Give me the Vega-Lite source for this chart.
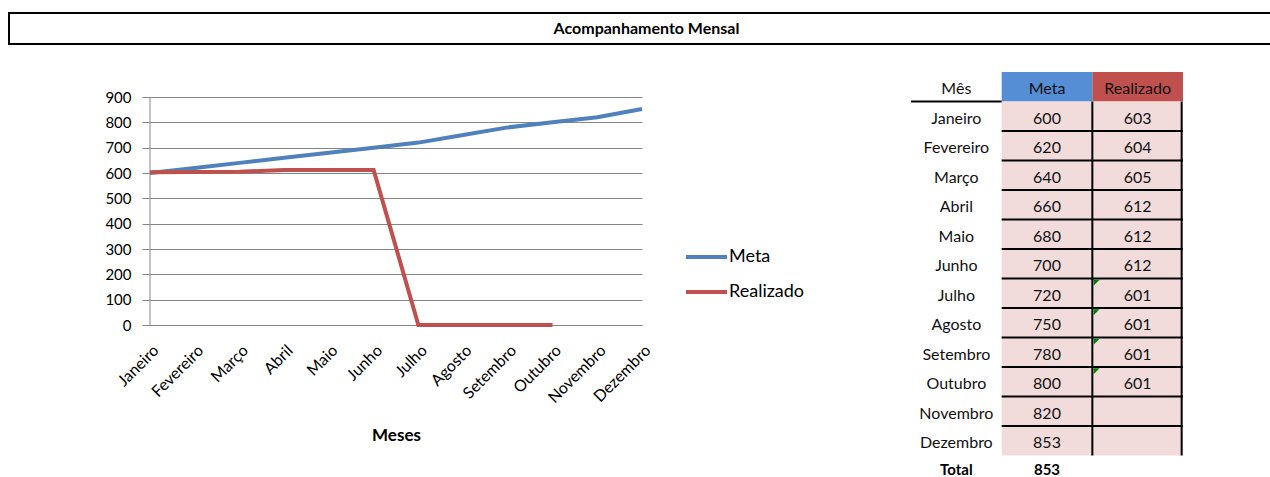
{
  "$schema": "https://vega.github.io/schema/vega-lite/v6.json",
  "padding": {"left": 8, "top": 12, "right": 0, "bottom": 0},
  "background": "white",
  "config": {"font": "Lato", "view": {"stroke": null}},
  "datasets": {
    "serie": [
      {"mes": "Janeiro", "serie": "Meta", "valor": 600},
      {"mes": "Fevereiro", "serie": "Meta", "valor": 620},
      {"mes": "Março", "serie": "Meta", "valor": 640},
      {"mes": "Abril", "serie": "Meta", "valor": 660},
      {"mes": "Maio", "serie": "Meta", "valor": 680},
      {"mes": "Junho", "serie": "Meta", "valor": 700},
      {"mes": "Julho", "serie": "Meta", "valor": 720},
      {"mes": "Agosto", "serie": "Meta", "valor": 750},
      {"mes": "Setembro", "serie": "Meta", "valor": 780},
      {"mes": "Outubro", "serie": "Meta", "valor": 800},
      {"mes": "Novembro", "serie": "Meta", "valor": 820},
      {"mes": "Dezembro", "serie": "Meta", "valor": 853},
      {"mes": "Janeiro", "serie": "Realizado", "valor": 603},
      {"mes": "Fevereiro", "serie": "Realizado", "valor": 604},
      {"mes": "Março", "serie": "Realizado", "valor": 605},
      {"mes": "Abril", "serie": "Realizado", "valor": 612},
      {"mes": "Maio", "serie": "Realizado", "valor": 612},
      {"mes": "Junho", "serie": "Realizado", "valor": 612},
      {"mes": "Julho", "serie": "Realizado", "valor": 0},
      {"mes": "Agosto", "serie": "Realizado", "valor": 0},
      {"mes": "Setembro", "serie": "Realizado", "valor": 0},
      {"mes": "Outubro", "serie": "Realizado", "valor": 0}
    ],
    "tabela": [
      {"linha": "Mês", "coluna": "Mês", "texto": "Mês"},
      {"linha": "Mês", "coluna": "Meta", "texto": "Meta"},
      {"linha": "Mês", "coluna": "Realizado", "texto": "Realizado"},
      {"linha": "Janeiro", "coluna": "Mês", "texto": "Janeiro"},
      {"linha": "Janeiro", "coluna": "Meta", "texto": "600"},
      {"linha": "Janeiro", "coluna": "Realizado", "texto": "603"},
      {"linha": "Fevereiro", "coluna": "Mês", "texto": "Fevereiro"},
      {"linha": "Fevereiro", "coluna": "Meta", "texto": "620"},
      {"linha": "Fevereiro", "coluna": "Realizado", "texto": "604"},
      {"linha": "Março", "coluna": "Mês", "texto": "Março"},
      {"linha": "Março", "coluna": "Meta", "texto": "640"},
      {"linha": "Março", "coluna": "Realizado", "texto": "605"},
      {"linha": "Abril", "coluna": "Mês", "texto": "Abril"},
      {"linha": "Abril", "coluna": "Meta", "texto": "660"},
      {"linha": "Abril", "coluna": "Realizado", "texto": "612"},
      {"linha": "Maio", "coluna": "Mês", "texto": "Maio"},
      {"linha": "Maio", "coluna": "Meta", "texto": "680"},
      {"linha": "Maio", "coluna": "Realizado", "texto": "612"},
      {"linha": "Junho", "coluna": "Mês", "texto": "Junho"},
      {"linha": "Junho", "coluna": "Meta", "texto": "700"},
      {"linha": "Junho", "coluna": "Realizado", "texto": "612"},
      {"linha": "Julho", "coluna": "Mês", "texto": "Julho"},
      {"linha": "Julho", "coluna": "Meta", "texto": "720"},
      {"linha": "Julho", "coluna": "Realizado", "texto": "601", "aviso": true},
      {"linha": "Agosto", "coluna": "Mês", "texto": "Agosto"},
      {"linha": "Agosto", "coluna": "Meta", "texto": "750"},
      {"linha": "Agosto", "coluna": "Realizado", "texto": "601", "aviso": true},
      {"linha": "Setembro", "coluna": "Mês", "texto": "Setembro"},
      {"linha": "Setembro", "coluna": "Meta", "texto": "780"},
      {"linha": "Setembro", "coluna": "Realizado", "texto": "601", "aviso": true},
      {"linha": "Outubro", "coluna": "Mês", "texto": "Outubro"},
      {"linha": "Outubro", "coluna": "Meta", "texto": "800"},
      {"linha": "Outubro", "coluna": "Realizado", "texto": "601", "aviso": true},
      {"linha": "Novembro", "coluna": "Mês", "texto": "Novembro"},
      {"linha": "Novembro", "coluna": "Meta", "texto": "820"},
      {"linha": "Novembro", "coluna": "Realizado", "texto": ""},
      {"linha": "Dezembro", "coluna": "Mês", "texto": "Dezembro"},
      {"linha": "Dezembro", "coluna": "Meta", "texto": "853"},
      {"linha": "Dezembro", "coluna": "Realizado", "texto": ""},
      {"linha": "Total", "coluna": "Mês", "texto": "Total"},
      {"linha": "Total", "coluna": "Meta", "texto": "853"}
    ]
  },
  "spacing": 27,
  "center": true,
  "vconcat": [
    {
      "width": 1315,
      "height": 31,
      "view": {"stroke": "black", "strokeWidth": 2},
      "data": {"values": [{"titulo": "Acompanhamento Mensal"}]},
      "mark": {"type": "text", "fontWeight": "bold", "fontSize": 16, "color": "black", "baseline": "middle", "dx": -20},
      "encoding": {"text": {"field": "titulo", "type": "nominal"}}
    },
    {
      "spacing": 256,
      "hconcat": [
        {
          "width": 492,
          "height": 253,
          "layer": [
            {
              "data": {"values": [{}]},
              "mark": {"type": "rule", "color": "#868686", "strokeWidth": 1},
              "encoding": {
                "x": {
                  "datum": "Janeiro",
                  "type": "nominal",
                  "scale": {"type": "point", "padding": 0, "domain": ["Janeiro", "Fevereiro", "Março", "Abril", "Maio", "Junho", "Julho", "Agosto", "Setembro", "Outubro", "Novembro", "Dezembro"]},
                  "axis": {
                    "title": "Meses",
                    "titleFontSize": 17,
                    "titleFontWeight": "bold",
                    "titleColor": "black",
                    "titlePadding": 22,
                    "labelAngle": -45,
                    "labelFontSize": 16,
                    "labelColor": "black",
                    "labelPadding": 17,
                    "labelOverlap": false,
                    "ticks": false,
                    "domainColor": "#868686",
                    "domainWidth": 1,
                    "grid": false
                  }
                },
                "y": {
                  "datum": 0,
                  "type": "quantitative",
                  "scale": {"domain": [0, 998.7], "nice": false},
                  "axis": {
                    "title": null,
                    "values": [0, 100, 200, 300, 400, 500, 600, 700, 800, 900],
                    "labelOverlap": false,
                    "grid": true,
                    "gridColor": "#868686",
                    "gridOpacity": 1,
                    "domain": false,
                    "tickColor": "#868686",
                    "tickSize": 8,
                    "labelFontSize": 15,
                    "labelColor": "black",
                    "labelPadding": 11
                  }
                },
                "y2": {"datum": 900}
              }
            },
            {
              "data": {"name": "serie"},
              "mark": {"type": "line", "strokeWidth": 4, "strokeCap": "butt", "strokeJoin": "miter"},
              "encoding": {
                "x": {
                  "field": "mes",
                  "type": "nominal",
                  "scale": {"type": "point", "padding": 0, "domain": ["Janeiro", "Fevereiro", "Março", "Abril", "Maio", "Junho", "Julho", "Agosto", "Setembro", "Outubro", "Novembro", "Dezembro"]},
                  "axis": {
                    "title": "Meses",
                    "titleFontSize": 17,
                    "titleFontWeight": "bold",
                    "titleColor": "black",
                    "titlePadding": 22,
                    "labelAngle": -45,
                    "labelFontSize": 16,
                    "labelColor": "black",
                    "labelPadding": 17,
                    "labelOverlap": false,
                    "ticks": false,
                    "domainColor": "#868686",
                    "domainWidth": 1,
                    "grid": false
                  }
                },
                "y": {
                  "field": "valor",
                  "type": "quantitative",
                  "scale": {"domain": [0, 998.7], "nice": false},
                  "axis": {
                    "title": null,
                    "values": [0, 100, 200, 300, 400, 500, 600, 700, 800, 900],
                    "labelOverlap": false,
                    "grid": true,
                    "gridColor": "#868686",
                    "gridOpacity": 1,
                    "domain": false,
                    "tickColor": "#868686",
                    "tickSize": 8,
                    "labelFontSize": 15,
                    "labelColor": "black",
                    "labelPadding": 11
                  }
                },
                "color": {
                  "field": "serie",
                  "type": "nominal",
                  "scale": {"domain": ["Meta", "Realizado"], "range": ["#4F81BD", "#C0504D"]},
                  "legend": {
                    "title": null,
                    "orient": "none",
                    "legendX": 675,
                    "legendY": 234,
                    "symbolType": "stroke",
                    "symbolSize": 1681,
                    "symbolStrokeWidth": 4,
                    "labelFontSize": 18,
                    "labelColor": "black",
                    "labelOffset": 0,
                    "clipHeight": 20,
                    "rowPadding": 15
                  }
                }
              }
            }
          ]
        },
        {
          "width": 272,
          "height": 413,
          "data": {"name": "tabela"},
          "encoding": {
            "x": {"field": "coluna", "type": "nominal", "scale": {"domain": ["Mês", "Meta", "Realizado"], "paddingInner": 0, "paddingOuter": 0}, "axis": null},
            "y": {"field": "linha", "type": "nominal", "scale": {"domain": ["Mês", "Janeiro", "Fevereiro", "Março", "Abril", "Maio", "Junho", "Julho", "Agosto", "Setembro", "Outubro", "Novembro", "Dezembro", "Total"], "paddingInner": 0, "paddingOuter": 0}, "axis": null}
          },
          "layer": [
            {
              "transform": [{"filter": "datum.linha === 'Mês' && datum.coluna !== 'Mês'"}],
              "mark": {"type": "rect"},
              "encoding": {"fill": {"condition": {"test": "datum.coluna === 'Meta'", "value": "#558ED5"}, "value": "#C0504D"}}
            },
            {
              "transform": [{"filter": "datum.linha !== 'Mês' && datum.linha !== 'Total' && datum.coluna !== 'Mês'"}],
              "mark": {"type": "rect", "fill": "#F2DCDB"}
            },
            {
              "transform": [{"filter": "(datum.coluna !== 'Mês' && datum.linha !== 'Mês' && datum.linha !== 'Total' && datum.linha !== 'Janeiro') || (datum.coluna === 'Mês' && datum.linha === 'Janeiro')"}],
              "mark": {"type": "rule", "color": "black", "strokeWidth": 2},
              "encoding": {
                "x": {"field": "coluna", "type": "nominal", "bandPosition": 0, "scale": {"domain": ["Mês", "Meta", "Realizado"], "paddingInner": 0, "paddingOuter": 0}, "axis": null},
                "x2": {"field": "coluna", "bandPosition": 1},
                "y": {"field": "linha", "type": "nominal", "bandPosition": 0, "scale": {"domain": ["Mês", "Janeiro", "Fevereiro", "Março", "Abril", "Maio", "Junho", "Julho", "Agosto", "Setembro", "Outubro", "Novembro", "Dezembro", "Total"], "paddingInner": 0, "paddingOuter": 0}, "axis": null}
              }
            },
            {
              "transform": [{"filter": "datum.coluna === 'Realizado' && datum.linha !== 'Mês' && datum.linha !== 'Total'"}],
              "mark": {"type": "rule", "color": "black", "strokeWidth": 2},
              "encoding": {
                "x": {"field": "coluna", "type": "nominal", "bandPosition": 0, "scale": {"domain": ["Mês", "Meta", "Realizado"], "paddingInner": 0, "paddingOuter": 0}, "axis": null},
                "y": {"field": "linha", "type": "nominal", "bandPosition": 0, "scale": {"domain": ["Mês", "Janeiro", "Fevereiro", "Março", "Abril", "Maio", "Junho", "Julho", "Agosto", "Setembro", "Outubro", "Novembro", "Dezembro", "Total"], "paddingInner": 0, "paddingOuter": 0}, "axis": null},
                "y2": {"field": "linha", "bandPosition": 1}
              }
            },
            {
              "transform": [{"filter": "datum.coluna === 'Realizado' && datum.linha !== 'Mês' && datum.linha !== 'Total'"}],
              "mark": {"type": "rule", "color": "black", "strokeWidth": 2},
              "encoding": {
                "x": {"field": "coluna", "type": "nominal", "bandPosition": 0.985, "scale": {"domain": ["Mês", "Meta", "Realizado"], "paddingInner": 0, "paddingOuter": 0}, "axis": null},
                "y": {"field": "linha", "type": "nominal", "bandPosition": 0, "scale": {"domain": ["Mês", "Janeiro", "Fevereiro", "Março", "Abril", "Maio", "Junho", "Julho", "Agosto", "Setembro", "Outubro", "Novembro", "Dezembro", "Total"], "paddingInner": 0, "paddingOuter": 0}, "axis": null},
                "y2": {"field": "linha", "bandPosition": 1}
              }
            },
            {
              "transform": [{"filter": "datum.aviso === true"}],
              "mark": {"type": "point", "shape": "M0.4,0.4L2.4,0.4L0.4,2.4Z", "filled": true, "color": "#008000", "opacity": 1, "size": 36, "strokeWidth": 0},
              "encoding": {
                "x": {"field": "coluna", "type": "nominal", "bandPosition": 0, "scale": {"domain": ["Mês", "Meta", "Realizado"], "paddingInner": 0, "paddingOuter": 0}, "axis": null},
                "y": {"field": "linha", "type": "nominal", "bandPosition": 0, "scale": {"domain": ["Mês", "Janeiro", "Fevereiro", "Março", "Abril", "Maio", "Junho", "Julho", "Agosto", "Setembro", "Outubro", "Novembro", "Dezembro", "Total"], "paddingInner": 0, "paddingOuter": 0}, "axis": null}
              }
            },
            {
              "transform": [{"filter": "datum.linha !== 'Total'"}],
              "mark": {"type": "text", "fontSize": 16, "color": "#111111", "baseline": "middle", "dy": 2.5},
              "encoding": {"text": {"field": "texto", "type": "nominal"}}
            },
            {
              "transform": [{"filter": "datum.linha === 'Total'"}],
              "mark": {"type": "text", "fontSize": 15, "fontWeight": "bold", "color": "black", "baseline": "middle", "dy": -0.5},
              "encoding": {"text": {"field": "texto", "type": "nominal"}}
            }
          ]
        }
      ]
    }
  ]
}
